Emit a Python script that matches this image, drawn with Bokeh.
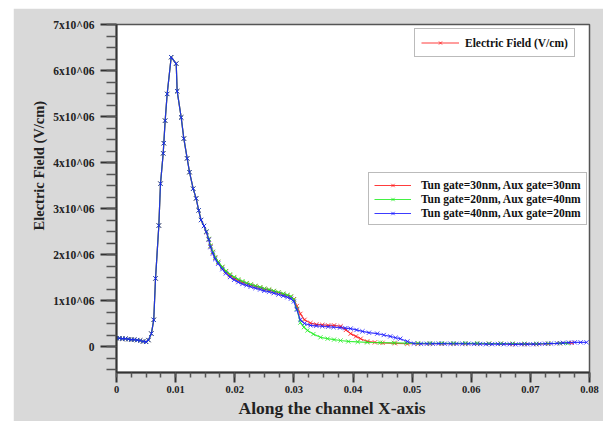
import numpy as np
from bokeh.plotting import figure
from bokeh.models import Range1d, FixedTicker, Legend, LegendItem, Title, ColumnDataSource
from bokeh.embed import file_html
from bokeh.resources import INLINE

# ---- data (x in channel units, y in MV/cm -> converted to V/cm) ----
head_x = [0.0, 0.0005, 0.001, 0.0015, 0.002, 0.0025, 0.003, 0.0035, 0.004, 0.0045,
          0.005, 0.0054, 0.0059, 0.0063, 0.0066, 0.00716, 0.00744, 0.0079, 0.0080, 0.00823,
          0.00857, 0.00925, 0.0101, 0.01026, 0.01094, 0.01139, 0.01195, 0.01235, 0.01297, 0.01347,
          0.0139]
head_mv = [0.18, 0.18, 0.17, 0.17, 0.16, 0.15, 0.15, 0.14, 0.13, 0.11,
           0.10, 0.14, 0.28, 0.58, 1.48, 2.63, 3.54, 4.20, 4.42, 4.91,
           5.49, 6.29, 6.15, 5.55, 4.98, 4.52, 4.09, 3.79, 3.43, 3.22,
           2.96]

mid_x = [0.0143, 0.0148, 0.0152, 0.0156, 0.0159, 0.0163, 0.0167, 0.0172, 0.0179, 0.0185,
         0.0192, 0.0199, 0.0206, 0.0213, 0.0220, 0.0227, 0.0235, 0.0243, 0.0250, 0.0258,
         0.0266, 0.0274, 0.0282, 0.0289, 0.0295, 0.0300]
red_mid = [2.75, 2.62, 2.49, 2.33, 2.18, 2.05, 1.93, 1.83, 1.72, 1.63,
           1.55, 1.49, 1.44, 1.40, 1.37, 1.34, 1.31, 1.28, 1.25, 1.23,
           1.20, 1.17, 1.14, 1.11, 1.08, 1.03]
green_mid = [2.75, 2.62, 2.50, 2.34, 2.19, 2.06, 1.94, 1.84, 1.73, 1.64,
             1.57, 1.51, 1.46, 1.42, 1.38, 1.35, 1.32, 1.29, 1.26, 1.24,
             1.21, 1.18, 1.15, 1.12, 1.09, 1.02]
blue_mid = [2.75, 2.62, 2.49, 2.32, 2.16, 2.02, 1.90, 1.80, 1.68, 1.59,
            1.51, 1.45, 1.40, 1.36, 1.33, 1.30, 1.27, 1.24, 1.21, 1.19,
            1.16, 1.13, 1.10, 1.07, 1.04, 0.98]

red_tail_x = [0.0305, 0.0311, 0.0318, 0.0328, 0.0338, 0.0348, 0.0358, 0.0368, 0.0379, 0.0388,
              0.0396, 0.0405, 0.0413, 0.0424, 0.0437, 0.0450, 0.0471, 0.0492, 0.0510, 0.0530,
              0.0550, 0.0570, 0.0590, 0.0610, 0.0630, 0.0650, 0.0670, 0.0690, 0.0710, 0.0730,
              0.0750, 0.0770]
red_tail = [0.88, 0.71, 0.58, 0.51, 0.48, 0.47, 0.46, 0.46, 0.44, 0.36,
            0.28, 0.22, 0.17, 0.11, 0.09, 0.08, 0.07, 0.06, 0.06, 0.06,
            0.06, 0.06, 0.06, 0.06, 0.06, 0.06, 0.05, 0.05, 0.05, 0.06,
            0.07, 0.08]
green_tail_x = [0.0305, 0.0311, 0.0317, 0.0323, 0.0333, 0.0345, 0.0357, 0.0368, 0.0379, 0.0392,
                0.0408, 0.0424, 0.0446, 0.0469, 0.0490, 0.0510, 0.0530, 0.0550, 0.0570, 0.0590,
                0.0610, 0.0630, 0.0650, 0.0670, 0.0690, 0.0710, 0.0730, 0.0750, 0.0763]
green_tail = [0.82, 0.52, 0.42, 0.35, 0.27, 0.20, 0.17, 0.15, 0.13, 0.11,
              0.10, 0.09, 0.085, 0.08, 0.075, 0.07, 0.07, 0.07, 0.07, 0.07,
              0.07, 0.065, 0.065, 0.065, 0.06, 0.06, 0.065, 0.07, 0.07]
blue_tail_x = [0.0305, 0.0311, 0.0318, 0.0328, 0.0338, 0.0348, 0.0358, 0.0367, 0.0378, 0.0387,
               0.0396, 0.0406, 0.0416, 0.0427, 0.0441, 0.0452, 0.0463, 0.0472, 0.0480, 0.0492,
               0.0503, 0.0515, 0.0525, 0.0535, 0.0545, 0.0555, 0.0565, 0.0575, 0.0585, 0.0595,
               0.0605, 0.0615, 0.0625, 0.0635, 0.0645, 0.0655, 0.0665, 0.0675, 0.0685, 0.0695,
               0.0705, 0.0715, 0.0725, 0.0735, 0.0745, 0.0755, 0.0765, 0.0775, 0.0785, 0.0795]
blue_tail = [0.80, 0.58, 0.50, 0.46, 0.45, 0.44, 0.43, 0.42, 0.41, 0.40,
             0.39, 0.36, 0.33, 0.30, 0.28, 0.25, 0.22, 0.19, 0.17, 0.11,
             0.065, 0.06, 0.06, 0.06, 0.065, 0.06, 0.06, 0.06, 0.06, 0.06,
             0.055, 0.055, 0.05, 0.05, 0.055, 0.05, 0.05, 0.045, 0.05, 0.05,
             0.05, 0.055, 0.06, 0.065, 0.07, 0.08, 0.085, 0.09, 0.09, 0.09]

series_names = ["Tun gate=30nm, Aux gate=30nm",
                "Tun gate=20nm, Aux gate=40nm",
                "Tun gate=40nm, Aux gate=20nm"]
series_colors = ["#ff1a1a", "#22ee22", "#1a1aff"]

x_ticks = [0, 0.01, 0.02, 0.03, 0.04, 0.05, 0.06, 0.07, 0.08]
x_tick_labels = ["0", "0.01", "0.02", "0.03", "0.04", "0.05", "0.06", "0.07", "0.08"]
y_ticks = [0, 1000000, 2000000, 3000000, 4000000, 5000000, 6000000, 7000000]
y_tick_labels = ["0", "1x10^06", "2x10^06", "3x10^06", "4x10^06", "5x10^06", "6x10^06", "7x10^06"]

SERIF = "Liberation Serif"

p = figure(width=590, height=413,
           x_range=Range1d(0, 0.08), y_range=Range1d(-565000, 7000000),
           output_backend="svg", toolbar_location=None,
           min_border_left=103, min_border_right=14, min_border_top=16, min_border_bottom=49,
           border_fill_color="#d9d9d9", background_fill_color="white",
           outline_line_color="#555555", outline_line_width=1.5)
p.margin = (8, 0, 0, 13)
p.xgrid.visible = False
p.ygrid.visible = False

# axes
p.xaxis.ticker = FixedTicker(ticks=x_ticks,
                             minor_ticks=[i * 0.0025 for i in range(33)])
p.xaxis.major_label_overrides = dict(zip(x_ticks, x_tick_labels))
p.yaxis.ticker = FixedTicker(ticks=y_ticks,
                             minor_ticks=[i * 250000 for i in range(-2, 29)])
p.yaxis.major_label_overrides = dict(zip(y_ticks, y_tick_labels))

for ax in (p.xaxis[0], p.yaxis[0]):
    ax.axis_line_color = "#333333"
    ax.axis_line_width = 2
    ax.major_tick_line_color = "#333333"
    ax.minor_tick_line_color = "#555555"
    ax.major_tick_line_width = 2
    ax.minor_tick_line_width = 1.5
    ax.major_tick_in = 0
    ax.minor_tick_in = 0
    ax.major_label_text_font = SERIF
    ax.major_label_text_font_style = "bold"
    ax.major_label_text_color = "#222222"

p.xaxis.major_tick_out = 10
p.xaxis.minor_tick_out = 5
p.xaxis.major_label_text_font_size = "10.5px"
p.xaxis.major_label_standoff = 3
p.yaxis.major_tick_out = 16
p.yaxis.minor_tick_out = 10
p.yaxis.major_label_text_font_size = "11.5px"
p.yaxis.major_label_standoff = 6

# series
def build(mid, tail_x, tail):
    xs = head_x + mid_x + tail_x
    ys = (np.array(head_mv + mid + tail) * 1e6).tolist()
    return ColumnDataSource(dict(x=xs, y=ys))

sources = [build(red_mid, red_tail_x, red_tail),
           build(green_mid, green_tail_x, green_tail),
           build(blue_mid, blue_tail_x, blue_tail)]

rends = []
for src, col in zip(sources, series_colors):
    lr = p.line("x", "y", source=src, line_color=col, line_width=1.2, line_alpha=0.85)
    sr = p.scatter("x", "y", source=src, marker="x", size=6, line_color=col, line_width=1, line_alpha=0.8)
    rends.append((lr, sr))

# legends
common = dict(label_text_font=SERIF, label_text_font_style="bold",
              label_text_font_size="11.5px", label_text_color="#111111",
              margin=0, border_line_color="#777777", border_line_width=1,
              background_fill_color="white", background_fill_alpha=1)

leg1 = Legend(items=[LegendItem(label="Electric Field (V/cm)", renderers=list(rends[0]))],
              location=(298, 315), glyph_width=38, glyph_height=11, label_height=15,
              label_standoff=6, padding=6, spacing=0, **common)
leg2 = Legend(items=[LegendItem(label=n, renderers=list(r)) for n, r in zip(series_names, rends)],
              location=(252, 147), glyph_width=37, glyph_height=12, label_height=13,
              label_standoff=10, padding=5, spacing=1, **common)
p.add_layout(leg1)
p.add_layout(leg2)

# axis titles (offset from the frame's start, as in the original)
p.add_layout(Title(text="Along the channel X-axis", align="left", offset=122, standoff=0,
                   text_font=SERIF, text_font_style="bold", text_font_size="17.5px",
                   text_color="#222222"), "below")
p.add_layout(Title(text="Electric Field (V/cm)", align="left", offset=142, standoff=8,
                   text_font=SERIF, text_font_style="bold", text_font_size="14.5px",
                   text_color="#222222"), "left")

open("out.html", "w").write(file_html(p, INLINE))
